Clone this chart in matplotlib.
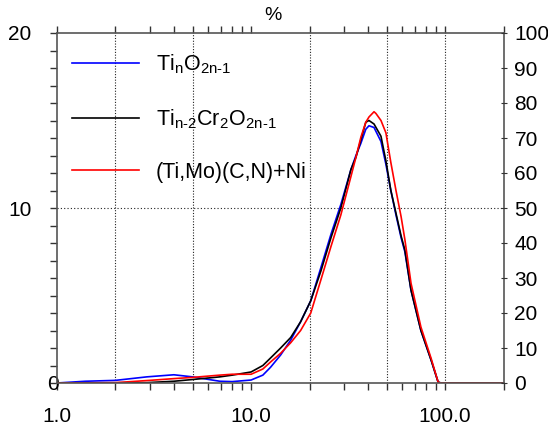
import numpy as np
import matplotlib
matplotlib.use("Agg")
import matplotlib.pyplot as plt
import matplotlib.transforms as mtransforms

plt.rcParams['font.family'] = ['Liberation Sans', 'DejaVu Sans']
plt.rcParams['mathtext.fontset'] = 'custom'
plt.rcParams['mathtext.rm'] = 'Liberation Sans'

# particle size (x) and frequency (%)
size_blue = [1.0, 1.4, 2.0, 2.9, 4.0, 5.0, 6.9, 8.0, 10.0, 11.5, 12.6, 14.2, 16.0, 18.0,
             20.3, 22.9, 25.8, 29.0, 32.7, 34.7, 36.8, 39.0, 40.5, 43.0, 46.7, 49.5,
             52.5, 55.8, 59.3, 62.0, 66.7, 75.0, 84.7, 92.0, 95.0, 200.0]
freq_blue = [0.0, 0.1, 0.15, 0.35, 0.47, 0.35, 0.1, 0.08, 0.17, 0.45, 0.9, 1.6, 2.45, 3.5,
             4.7, 6.6, 8.5, 10.2, 12.2, 13.0, 13.7, 14.5, 14.7, 14.6, 13.8, 12.5,
             11.0, 9.6, 8.3, 7.5, 5.3, 3.0, 1.3, 0.05, 0.0, 0.0]

size_black = [1.0, 2.9, 4.0, 5.0, 6.9, 8.0, 10.0, 11.5, 12.6, 14.2, 16.0, 18.0,
              20.3, 22.9, 25.8, 29.0, 32.7, 34.7, 36.8, 39.0, 40.5, 43.0, 46.7, 49.5,
              52.5, 55.8, 59.3, 62.0, 66.7, 75.0, 84.7, 92.0, 95.0, 200.0]
freq_black = [0.0, 0.02, 0.1, 0.2, 0.35, 0.45, 0.63, 1.0, 1.43, 2.0, 2.6, 3.5,
              4.7, 6.4, 8.3, 10.0, 12.2, 12.9, 13.9, 14.9, 15.0, 14.8, 14.1, 12.7,
              11.0, 9.7, 8.4, 7.6, 5.3, 3.0, 1.3, 0.05, 0.0, 0.0]

size_red = [1.0, 2.0, 3.0, 4.0, 5.0, 6.9, 8.0, 10.0, 11.5, 12.6, 14.2, 16.0, 18.0,
            20.3, 22.9, 25.8, 29.0, 32.7, 34.7, 36.8, 39.0, 40.5, 43.0, 44.0, 46.7, 49.5,
            52.5, 55.8, 59.3, 62.0, 66.7, 75.0, 84.7, 92.0, 95.0, 200.0]
freq_red = [0.0, 0.02, 0.15, 0.25, 0.32, 0.45, 0.5, 0.5, 0.8, 1.2, 1.7, 2.3, 3.0,
            4.0, 5.9, 7.8, 9.6, 11.8, 12.9, 14.05, 14.9, 15.2, 15.5, 15.4, 15.0, 14.3,
            12.6, 11.0, 9.5, 8.2, 5.7, 3.2, 1.4, 0.05, 0.0, 0.0]

labels = ['Ti$_\\mathregular{n}$O$_\\mathregular{2n\\text{-}1}$',
          'Ti$_\\mathregular{n\\text{-}2}$Cr$_\\mathregular{2}$O$_\\mathregular{2n\\text{-}1}$',
          '(Ti,Mo)(C,N)+Ni']
colors = ['#0000ff', '#000000', '#ff0000']

xgrid = [2, 5, 20, 50, 100]
xticks = [1, 10, 100]
xticklabels = ['1.0', '10.0', '100.0']

fig = plt.figure(figsize=(5.48, 4.32), dpi=100)
ax = fig.add_axes([57 / 548, 1 - 383 / 432, 447 / 548, 350 / 432])

for xs, ys, c, lab in zip([size_blue, size_black, size_red],
                          [freq_blue, freq_black, freq_red], colors, labels):
    ax.plot(xs, ys, color=c, lw=1.2, label=lab)

for g in xgrid:
    ax.axvline(g, color='#222222', lw=0.8, ls=(0, (1, 1.5)), zorder=0)
ax.axhline(10, color='#222222', lw=0.8, ls=(0, (1, 2)), zorder=0)

ax.set_xscale('log')
ax.set_xlim(1, 201)
ax.set_ylim(0, 20)

ax.set_xticks(xticks)
ax.set_xticklabels(xticklabels, fontsize=15)
ax.set_xticks([v * d for d in (1, 10, 100) for v in range(2, 10) if v * d < 201], minor=True)
ax.set_yticks([0, 10, 20])
ax.set_yticklabels(['0', '10', '20'], fontsize=15)
ax.set_yticks(np.arange(0, 21, 1), minor=True)

ax.tick_params(axis='x', which='both', direction='out', length=5, top=True,
               color='#333333', width=1)
ax.tick_params(axis='x', which='major', pad=12)
ax.tick_params(axis='y', which='both', direction='out', length=5, color='#333333', width=1)
ax.tick_params(axis='y', which='major', pad=13.5)

# zero label sits close to the spine in the original
lbl0 = ax.get_yticklabels()[0]
lbl0.set_transform(lbl0.get_transform() + mtransforms.ScaledTranslation(20 / 72, 0, fig.dpi_scale_trans))

for s in ax.spines.values():
    s.set_color('#555555')
    s.set_linewidth(1.2)

ax2 = ax.twinx()
ax2.set_ylim(0, 100)
ax2.set_yticks(np.arange(0, 101, 10))
ax2.tick_params(axis='y', direction='inout', length=5, color='#333333', labelsize=15, pad=5)
for s in ax2.spines.values():
    s.set_visible(False)

ax.legend(loc='upper left', bbox_to_anchor=(-0.01, 1.0), frameon=False, fontsize=15.5,
          handlelength=3.1, handletextpad=0.8, labelspacing=1.45, borderaxespad=0.5)

fig.text(273 / 548, 1 - 15 / 432, '%', fontsize=14, ha='center', va='center')

fig.savefig('out.png', dpi=100)
